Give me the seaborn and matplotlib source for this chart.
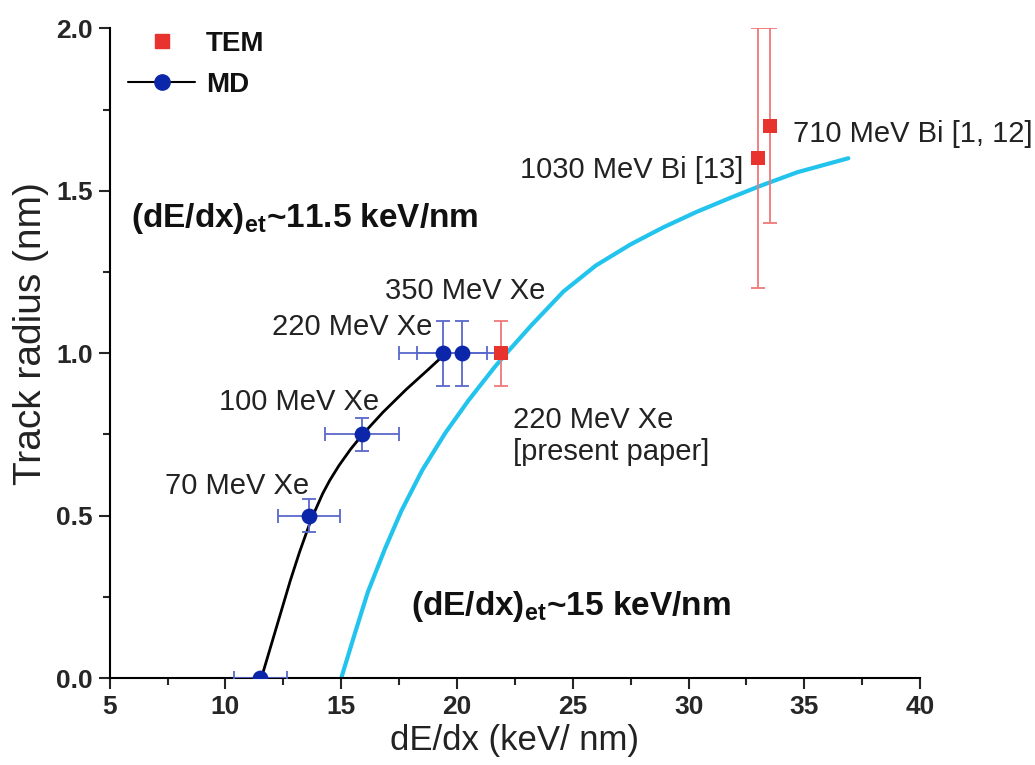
import matplotlib
matplotlib.use("Agg")
import matplotlib.pyplot as plt
from matplotlib.lines import Line2D
from matplotlib.ticker import MultipleLocator
import seaborn as sns

# ---- data ----
md_x = [11.5, 13.6, 15.9, 19.4, 20.2]
md_y = [0.0, 0.5, 0.75, 1.0, 1.0]
md_xerr = [1.15, 1.35, 1.6, 1.9, 1.95]
md_yerr = [0.0, 0.05, 0.05, 0.1, 0.1]

tem_x = [21.9, 33.0, 33.5]
tem_y = [1.0, 1.6, 1.7]
tem_yerr = [0.1, 0.4, 0.3]

md_fit_x = [11.55, 11.9, 12.35, 12.8, 13.2, 13.7, 14.2, 14.5, 14.9, 15.4, 15.9,
            16.8, 17.8, 18.7, 19.4]
md_fit_y = [0.0, 0.084, 0.192, 0.30, 0.388, 0.488, 0.568, 0.608, 0.654, 0.704, 0.748,
            0.818, 0.888, 0.946, 0.992]

tem_fit_x = [15.0, 15.3, 15.6, 16.15, 16.9, 17.6, 18.5, 19.5, 20.5, 21.6, 22.2, 23.2,
             24.6, 26.0, 27.5, 28.9, 30.35, 31.8, 33.1, 34.7, 36.9]
tem_fit_y = [0.0, 0.07, 0.14, 0.265, 0.40, 0.515, 0.64, 0.755, 0.855, 0.955, 1.005, 1.085,
             1.19, 1.27, 1.335, 1.387, 1.435, 1.478, 1.515, 1.557, 1.6]

labels = ["70 MeV Xe", "100 MeV Xe", "220 MeV Xe", "350 MeV Xe",
          "220 MeV Xe\n[present paper]", "1030 MeV Bi [13]", "710 MeV Bi [1, 12]"]
label_x = [7.4, 9.7, 12.0, 16.9, 22.4, 22.7, 34.5]
label_y = [0.59, 0.85, 1.08, 1.19, 0.745, 1.565, 1.675]

x_ticks = [5, 10, 15, 20, 25, 30, 35, 40]
y_ticks = [0.0, 0.5, 1.0, 1.5, 2.0]

# ---- style ----
sns.set_style("ticks")
plt.rcParams['font.family'] = ['Liberation Sans', 'DejaVu Sans']
plt.rcParams['mathtext.fontset'] = 'custom'
plt.rcParams['mathtext.rm'] = 'Liberation Sans'
plt.rcParams['mathtext.bf'] = 'Liberation Sans:bold'

fig = plt.figure(figsize=(10.35, 7.65), dpi=100)
ax = fig.add_axes([0.106, 0.1137, 0.783, 0.8493])

red = '#e8322e'
red_err = '#f07878'
blue = '#0c26aa'
blue_err = '#5868cc'
cyan = '#22c4ee'
txt = '#222222'

# fitted curves
sns.lineplot(x=tem_fit_x, y=tem_fit_y, ax=ax, color=cyan, lw=3.0, sort=False, zorder=2)
sns.lineplot(x=md_fit_x, y=md_fit_y, ax=ax, color='black', lw=2.0, sort=False, zorder=3)

# error bars
ax.errorbar(md_x, md_y, xerr=md_xerr, yerr=md_yerr, fmt='none', ecolor=blue_err,
            elinewidth=1.3, capsize=5, capthick=1.3, zorder=4)
ax.errorbar(tem_x, tem_y, yerr=tem_yerr, fmt='none', ecolor=red_err,
            elinewidth=1.3, capsize=5, capthick=1.3, zorder=4)

# markers
sns.scatterplot(x=md_x, y=md_y, ax=ax, color=blue, marker='o', s=130, linewidth=0, zorder=5)
sns.scatterplot(x=tem_x, y=tem_y, ax=ax, color=red, marker='s', s=100, linewidth=0, zorder=5)

ax.set_xlim(5, 40)
ax.set_ylim(0, 2.0)
ax.set_xticks(x_ticks)
ax.set_yticks(y_ticks)
ax.set_xticklabels([str(t) for t in x_ticks])
ax.set_yticklabels([f"{t:.1f}" for t in y_ticks])
ax.xaxis.set_minor_locator(MultipleLocator(2.5))
ax.yaxis.set_minor_locator(MultipleLocator(0.25))
ax.tick_params(which='major', direction='out', length=8, width=1.5, labelsize=19, pad=4)
ax.tick_params(which='minor', direction='out', length=5, width=1.5)
for lab in ax.get_xticklabels() + ax.get_yticklabels():
    lab.set_fontweight('bold')
sns.despine(ax=ax)
for sp in ['left', 'bottom']:
    ax.spines[sp].set_linewidth(1.5)
    ax.spines[sp].set_color('black')

ax.set_xlabel("dE/dx (keV/ nm)", fontsize=25, labelpad=4, color=txt)
ax.set_ylabel("Track radius (nm)", fontsize=28, color=txt)
ax.yaxis.set_label_coords(-0.075, 0.53)

for t, x, y in zip(labels, label_x, label_y):
    ax.text(x, y, t, fontsize=21, color=txt, va='center', ha='left', linespacing=1.15)

ax.text(5.9, 1.415, r"(dE/dx)$_{\mathbf{et}}$~11.5 keV/nm", fontsize=24, fontweight='bold',
        va='center', ha='left', color='#111111')
ax.text(18.0, 0.22, r"(dE/dx)$_{\mathbf{et}}$~15 keV/nm", fontsize=24, fontweight='bold',
        va='center', ha='left', color='#111111')

handles = [Line2D([], [], color=red, marker='s', ls='none', ms=10),
           Line2D([], [], color='black', marker='o', mfc=blue, mec=blue, ms=11, lw=1.5)]
leg = ax.legend(handles, ["TEM", "MD"], loc='upper left', bbox_to_anchor=(-0.008, 1.035),
                frameon=False, prop={'weight': 'bold', 'size': 20}, handlelength=2.4,
                handletextpad=0.4, labelspacing=0.55)
for t in leg.get_texts():
    t.set_color('#111111')

fig.savefig("out.png", dpi=100)
